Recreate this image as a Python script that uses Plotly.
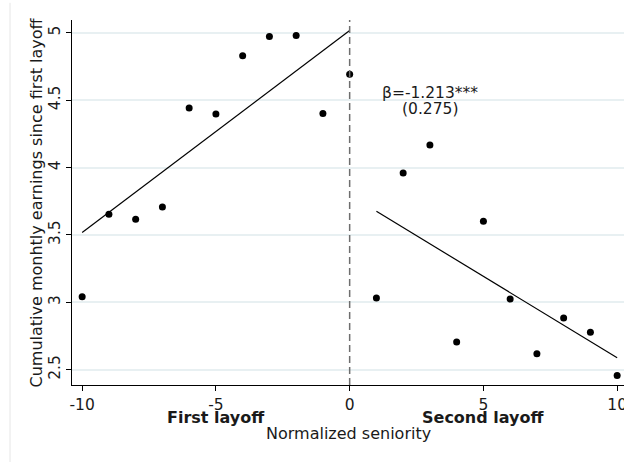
import plotly.graph_objects as go

# Data
seniority_first = [-10, -9, -8, -7, -6, -5, -4, -3, -2, -1, 0]
earnings_first = [3.042, 3.654, 3.617, 3.708, 4.443, 4.398, 4.829, 4.973, 4.980, 4.401, 4.693]
seniority_second = [1, 2, 3, 4, 5, 6, 7, 8, 9, 10]
earnings_second = [3.032, 3.960, 4.168, 2.706, 3.602, 3.025, 2.619, 2.884, 2.778, 2.458]

fit_first_x = [-10, 0]
fit_first_y = [3.518, 5.017]
fit_second_x = [1, 10]
fit_second_y = [3.676, 2.589]

x_ticks = [-10, -5, 0, 5, 10]
y_ticks = [2.5, 3, 3.5, 4, 4.5, 5]
y_tick_labels = ["2.5", "3", "3.5", "4", "4.5", "5"]

beta_text = "β=-1.213***"
se_text = "(0.275)"

FONT = "DejaVu Sans"
TXT = "#1a1a1a"

fig = go.Figure()
fig.add_trace(go.Scatter(x=fit_first_x, y=fit_first_y, mode="lines",
                         line=dict(color="black", width=1.2), showlegend=False))
fig.add_trace(go.Scatter(x=fit_second_x, y=fit_second_y, mode="lines",
                         line=dict(color="black", width=1.2), showlegend=False))
fig.add_trace(go.Scatter(x=seniority_first, y=earnings_first, mode="markers",
                         marker=dict(color="black", size=7), showlegend=False))
fig.add_trace(go.Scatter(x=seniority_second, y=earnings_second, mode="markers",
                         marker=dict(color="black", size=7), showlegend=False))

fig.add_shape(type="line", xref="x", yref="paper", x0=0, x1=0, y0=0, y1=1,
              line=dict(color="#6e6e6e", width=1.5, dash="7px,4px"))
# outer graph-region border (light)
fig.add_shape(type="line", xref="paper", yref="paper", x0=-0.1123, x1=-0.1123,
              y0=-0.22, y1=1.047, line=dict(color="#e6e6e6", width=1))

fig.add_annotation(x=3.0, y=4.555, xref="x", yref="y", text=beta_text, showarrow=False,
                   font=dict(family=FONT, size=15.5, color=TXT))
fig.add_annotation(x=3.0, y=4.436, xref="x", yref="y", text=se_text, showarrow=False,
                   font=dict(family=FONT, size=15.5, color=TXT))

fig.add_annotation(x=-5, y=-0.0896, xref="x", yref="paper", text="<b>First layoff</b>",
                   showarrow=False, yanchor="middle",
                   font=dict(family=FONT, size=16, color=TXT))
fig.add_annotation(x=5, y=-0.0896, xref="x", yref="paper", text="<b>Second layoff</b>",
                   showarrow=False, yanchor="middle",
                   font=dict(family=FONT, size=16, color=TXT))
fig.add_annotation(x=0.5, y=-0.1342, xref="paper", yref="paper", text="Normalized seniority",
                   showarrow=False, yanchor="middle",
                   font=dict(family=FONT, size=16, color=TXT))
fig.add_annotation(x=-0.0652, y=0.5, xref="paper", yref="paper",
                   text="Cumulative monhtly earnings since first layoff",
                   showarrow=False, textangle=-90, xanchor="center", yanchor="middle",
                   font=dict(family=FONT, size=16, color=TXT))

fig.update_layout(
    width=624, height=462,
    margin=dict(l=72, r=0, t=20, b=77, autoexpand=False),
    paper_bgcolor="white", plot_bgcolor="white",
    font=dict(family=FONT, size=16, color=TXT),
    showlegend=False,
    xaxis=dict(range=[-10.38, 10.256], tickvals=x_ticks, ticktext=[str(v) for v in x_ticks],
               showgrid=False, zeroline=False, showline=True, linecolor="black", linewidth=1,
               ticks="outside", ticklen=5, tickcolor="black", tickfont=dict(size=15.5),
               ticklabeloverflow="allow", automargin=False, fixedrange=True),
    yaxis=dict(range=[2.387, 5.095], tickvals=y_ticks, ticktext=y_tick_labels,
               showgrid=True, gridcolor="#e8f0f2", gridwidth=1.5, zeroline=False,
               showline=True, linecolor="black", linewidth=1,
               ticks="outside", ticklen=5, tickcolor="black", tickangle=-90,
               tickfont=dict(size=15.5), automargin=False),
)

fig.write_html("out.html")
